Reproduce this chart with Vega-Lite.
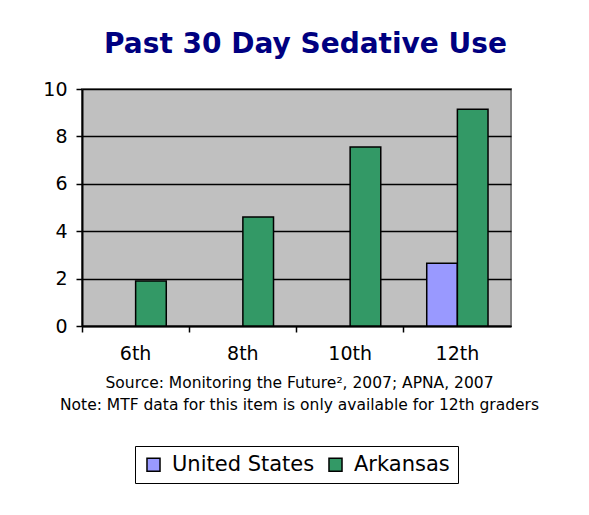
{
  "$schema": "https://vega.github.io/schema/vega-lite/v6.json",
  "width": 429,
  "height": 237,
  "padding": {"left": 42, "top": 31, "right": 10, "bottom": 5},
  "background": "white",
  "title": {
    "text": "Past 30 Day Sedative Use",
    "font": "DejaVu Sans",
    "fontSize": 28,
    "fontWeight": "bold",
    "color": "#000080",
    "anchor": "middle",
    "dx": 9,
    "offset": 21
  },
  "data": {
    "values": [
      {"grade": "6th", "group": "Arkansas", "value": 1.9},
      {"grade": "8th", "group": "Arkansas", "value": 4.6},
      {"grade": "10th", "group": "Arkansas", "value": 7.55},
      {"grade": "12th", "group": "United States", "value": 2.65},
      {"grade": "12th", "group": "Arkansas", "value": 9.15}
    ]
  },
  "mark": {"type": "bar", "stroke": "black", "strokeWidth": 1.5},
  "encoding": {
    "x": {
      "field": "grade",
      "type": "nominal",
      "sort": ["6th", "8th", "10th", "12th"],
      "scale": {"paddingInner": 0, "paddingOuter": 0},
      "axis": {
        "title": ["Source: Monitoring the Future², 2007; APNA, 2007", "Note: MTF data for this item is only available for 12th graders"],
        "titleFont": "DejaVu Sans",
        "titleFontSize": 15.5,
        "titleFontWeight": "normal",
        "titleColor": "black",
        "titlePadding": 12,
        "titleLineHeight": 22,
        "titleX": 217,
        "labelAngle": 0,
        "labelFont": "DejaVu Sans",
        "labelFontSize": 19,
        "labelColor": "black",
        "labelPadding": 12,
        "bandPosition": 0,
        "tickSize": 6,
        "tickColor": "black",
        "tickWidth": 1.5,
        "domainColor": "black",
        "domainWidth": 2,
        "grid": false
      }
    },
    "xOffset": {
      "field": "group",
      "type": "nominal",
      "sort": ["United States", "Arkansas"],
      "scale": {"paddingInner": 0, "paddingOuter": 0.75}
    },
    "y": {
      "field": "value",
      "type": "quantitative",
      "scale": {"domain": [0, 10]},
      "axis": {
        "title": null,
        "values": [0, 2, 4, 6, 8, 10],
        "labelFont": "DejaVu Sans",
        "labelFontSize": 19,
        "labelColor": "black",
        "labelPadding": 9,
        "tickSize": 6,
        "tickColor": "black",
        "tickWidth": 1.5,
        "domainColor": "black",
        "domainWidth": 2,
        "grid": true,
        "gridColor": "black",
        "gridWidth": 1.5
      }
    },
    "color": {
      "field": "group",
      "type": "nominal",
      "scale": {"domain": ["United States", "Arkansas"], "range": ["#9999FF", "#339966"]},
      "legend": {
        "title": null,
        "orient": "bottom",
        "direction": "horizontal",
        "strokeColor": "black",
        "padding": 8,
        "offset": 33,
        "labelFont": "DejaVu Sans",
        "labelFontSize": 21,
        "labelColor": "black",
        "symbolType": "square",
        "symbolSize": 170,
        "symbolStrokeColor": "black",
        "symbolStrokeWidth": 1.5,
        "symbolOpacity": 1,
        "columnPadding": 10,
        "labelOffset": 8
      }
    }
  },
  "config": {
    "view": {"fill": "#C0C0C0", "stroke": "#808080", "strokeWidth": 2},
    "legend": {"layout": {"bottom": {"anchor": "middle"}}}
  }
}
